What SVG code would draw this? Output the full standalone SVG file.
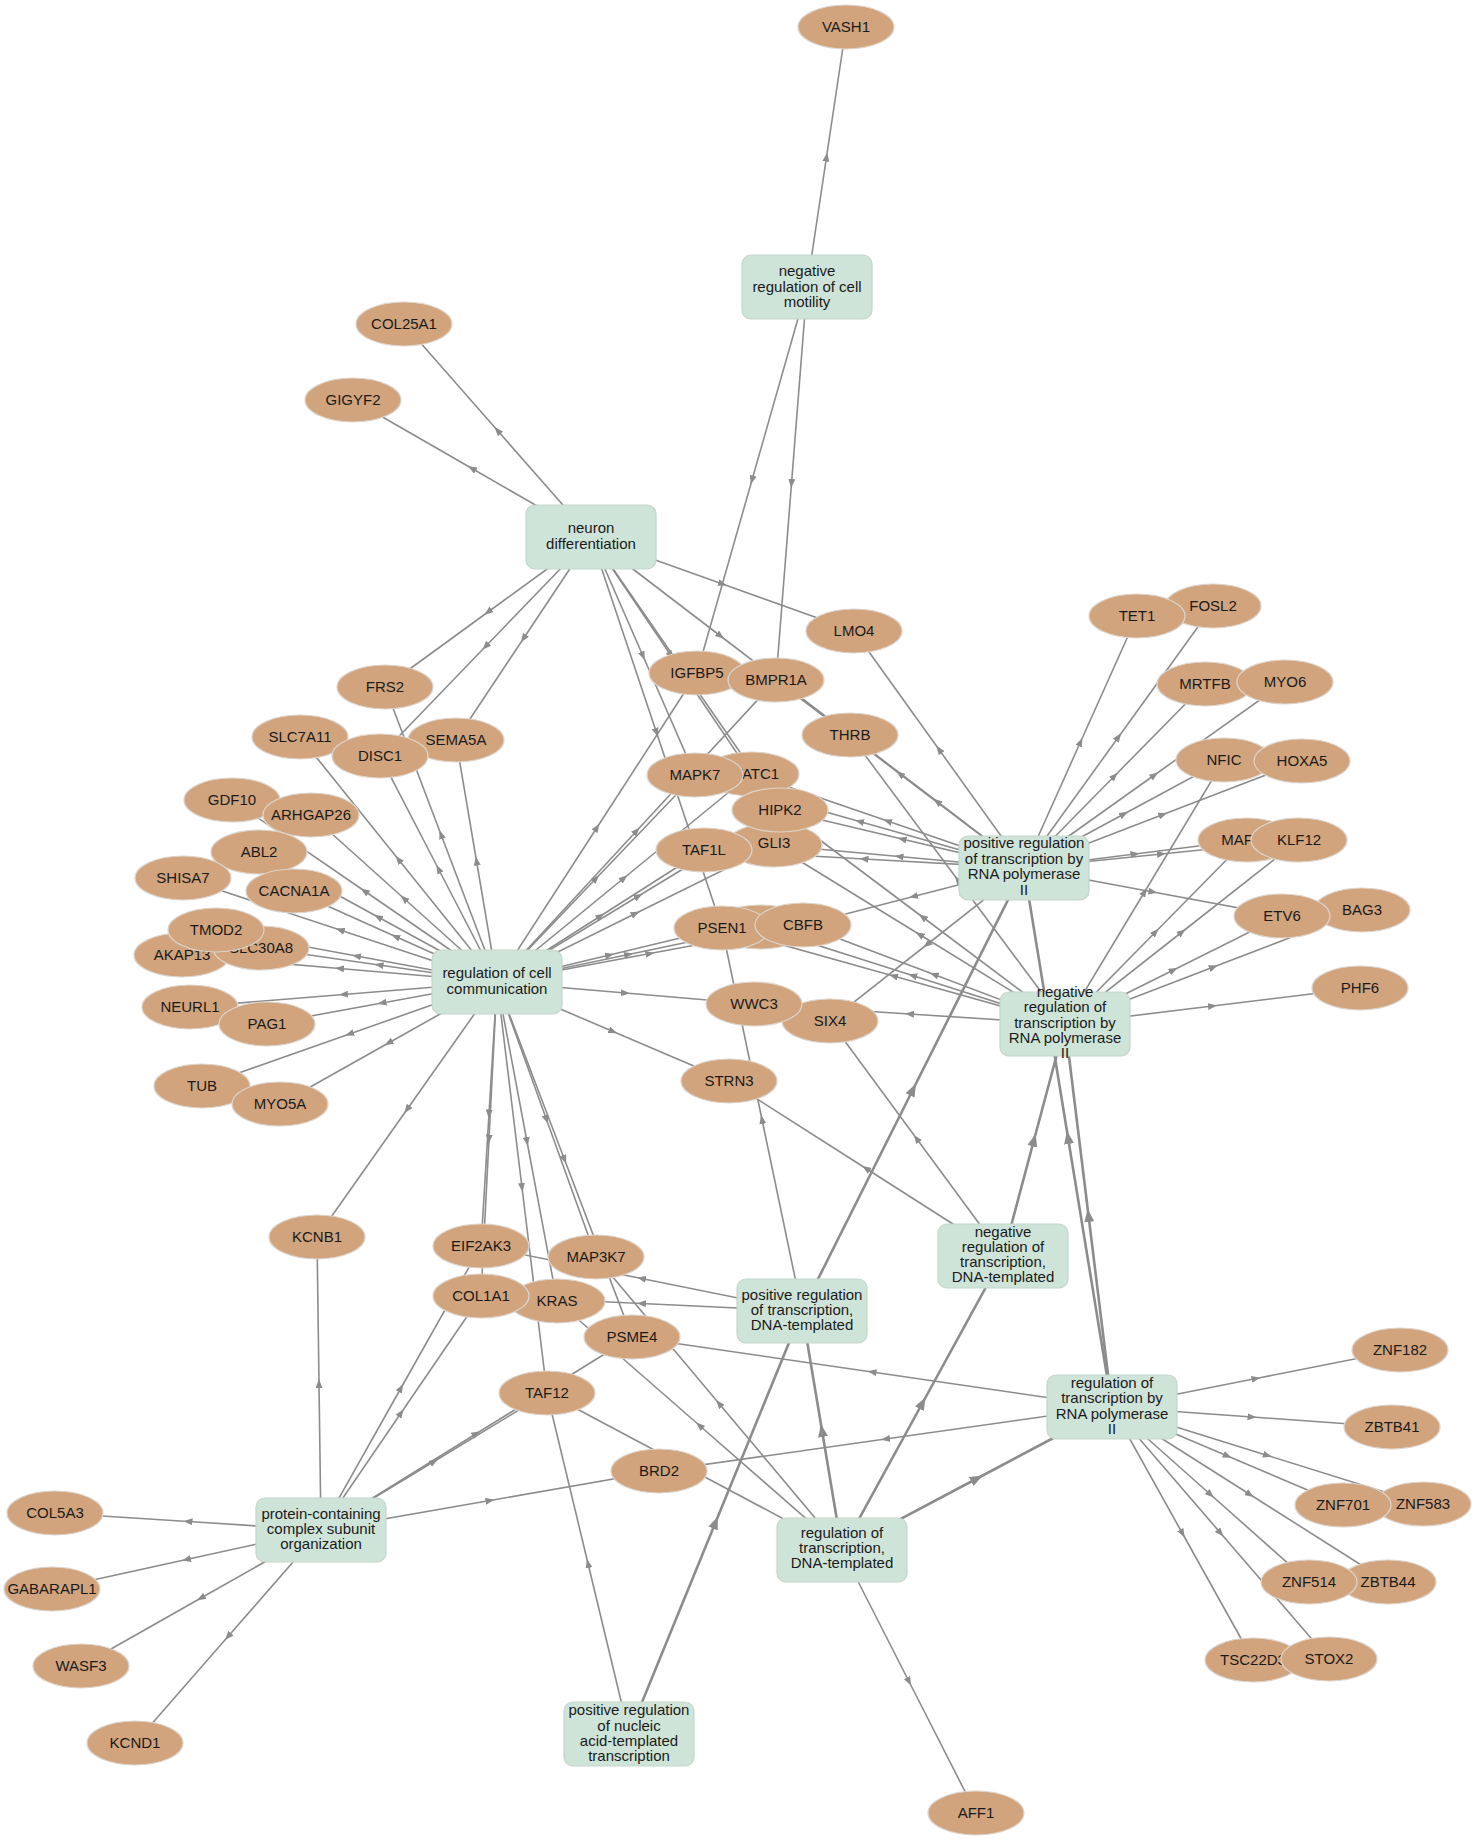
<svg xmlns="http://www.w3.org/2000/svg" width="1475" height="1840" viewBox="0 0 1475 1840">
<style>
.e{fill:none;stroke:#8c8c8c;stroke-width:1.6;marker-mid:url(#a)}
.tt{fill:none;stroke:#8c8c8c;stroke-width:2.6;marker-mid:url(#b)}
.g ellipse{fill:#d1a47d;stroke:#dcd4cc;stroke-width:1.2}
.t rect{fill:#cfe4d8;stroke:#c4d6cb;stroke-width:1.2}
text{font-family:"Liberation Sans",Arial,Helvetica,sans-serif;font-size:15px;fill:#1a1a1a;text-anchor:middle}
</style>
<defs>
<marker id="a" markerUnits="userSpaceOnUse" markerWidth="9" markerHeight="7" refX="4.5" refY="3.5" orient="auto"><path d="M0,0 L9,3.5 L0,7 z" fill="#8c8c8c"/></marker>
<marker id="b" markerUnits="userSpaceOnUse" markerWidth="13" markerHeight="10" refX="6.5" refY="5" orient="auto"><path d="M0,0 L13,5 L0,10 z" fill="#8c8c8c"/></marker>
</defs>
<rect width="1475" height="1840" fill="#ffffff"/>
<g id="edges">
<path class="e" d="M807,287 L826.5,157 L846,27"/>
<path class="e" d="M807,287 L752,480 L697,673"/>
<path class="e" d="M807,287 L791.5,483.5 L776,680"/>
<path class="e" d="M591,537 L497.5,430.5 L404,324"/>
<path class="e" d="M591,537 L472,468.5 L353,400"/>
<path class="e" d="M591,537 L488,612 L385,687"/>
<path class="e" d="M591,537 L485.5,646.5 L380,756"/>
<path class="e" d="M591,537 L523.5,638.5 L456,740"/>
<path class="e" d="M591,537 L722.5,584 L854,631"/>
<path class="e" d="M591,537 L720.5,636 L850,735"/>
<path class="e" d="M591,537 L656.5,732.5 L722,928"/>
<path class="e" d="M591,537 L643,656 L695,775"/>
<path class="e" d="M591,537 L671,655.5 L751,774"/>
<path class="e" d="M591,537 L685.5,673.5 L780,810"/>
<path class="e" d="M497,982 L398.5,859.5 L300,737"/>
<path class="e" d="M497,982 L438.5,869 L380,756"/>
<path class="e" d="M497,982 L441,834.5 L385,687"/>
<path class="e" d="M497,982 L476.5,861 L456,740"/>
<path class="e" d="M497,982 L404,898.5 L311,815"/>
<path class="e" d="M497,982 L364.5,891 L232,800"/>
<path class="e" d="M497,982 L378,917 L259,852"/>
<path class="e" d="M497,982 L340,930 L183,878"/>
<path class="e" d="M497,982 L395.5,936.5 L294,891"/>
<path class="e" d="M497,982 L356.5,956 L216,930"/>
<path class="e" d="M497,982 L379,965 L261,948"/>
<path class="e" d="M497,982 L339.5,968.5 L182,955"/>
<path class="e" d="M497,982 L343.5,994.5 L190,1007"/>
<path class="e" d="M497,982 L382,1003 L267,1024"/>
<path class="e" d="M497,982 L349.5,1034 L202,1086"/>
<path class="e" d="M497,982 L388.5,1043 L280,1104"/>
<path class="e" d="M497,982 L597,827.5 L697,673"/>
<path class="e" d="M497,982 L636.5,831 L776,680"/>
<path class="e" d="M497,982 L596,878.5 L695,775"/>
<path class="e" d="M497,982 L624,878 L751,774"/>
<path class="e" d="M497,982 L638.5,896 L780,810"/>
<path class="e" d="M497,982 L635.5,913.5 L774,845"/>
<path class="e" d="M497,982 L600.5,916 L704,850"/>
<path class="e" d="M497,982 L609.5,955 L722,928"/>
<path class="e" d="M497,982 L628.5,954.5 L760,927"/>
<path class="e" d="M497,982 L650,953.5 L803,925"/>
<path class="e" d="M497,982 L625.5,993 L754,1004"/>
<path class="e" d="M497,982 L613,1031.5 L729,1081"/>
<path class="e" d="M497,982 L407,1109.5 L317,1237"/>
<path class="e" d="M497,982 L489,1114 L481,1246"/>
<path class="e" d="M497,982 L489,1139 L481,1296"/>
<path class="e" d="M497,982 L522,1187.5 L547,1393"/>
<path class="e" d="M497,982 L527,1141.5 L557,1301"/>
<path class="e" d="M497,982 L546.5,1119.5 L596,1257"/>
<path class="e" d="M497,982 L564.5,1159.5 L632,1337"/>
<path class="e" d="M1024,868 L939,749.5 L854,631"/>
<path class="e" d="M1024,868 L937,801.5 L850,735"/>
<path class="e" d="M1024,868 L900,774 L776,680"/>
<path class="e" d="M1024,868 L902,839 L780,810"/>
<path class="e" d="M1024,868 L887.5,821 L751,774"/>
<path class="e" d="M1024,868 L859.5,821.5 L695,775"/>
<path class="e" d="M1024,868 L899,856.5 L774,845"/>
<path class="e" d="M1024,868 L864,859 L704,850"/>
<path class="e" d="M1024,868 L913.5,896.5 L803,925"/>
<path class="e" d="M1024,868 L927,944.5 L830,1021"/>
<path class="e" d="M1024,868 L1080.5,742 L1137,616"/>
<path class="e" d="M1024,868 L1118.5,737 L1213,606"/>
<path class="e" d="M1024,868 L1114.5,776 L1205,684"/>
<path class="e" d="M1024,868 L1154.5,775 L1285,682"/>
<path class="e" d="M1024,868 L1124,814 L1224,760"/>
<path class="e" d="M1024,868 L1163,814.5 L1302,761"/>
<path class="e" d="M1024,868 L1135,854 L1246,840"/>
<path class="e" d="M1024,868 L1161.5,854 L1299,840"/>
<path class="e" d="M1024,868 L1153,892 L1282,916"/>
<path class="e" d="M1065,1024 L957.5,879.5 L850,735"/>
<path class="e" d="M1065,1024 L922.5,917 L780,810"/>
<path class="e" d="M1065,1024 L919.5,934.5 L774,845"/>
<path class="e" d="M1065,1024 L893.5,976 L722,928"/>
<path class="e" d="M1065,1024 L912.5,975.5 L760,927"/>
<path class="e" d="M1065,1024 L934,974.5 L803,925"/>
<path class="e" d="M1065,1024 L909.5,1014 L754,1004"/>
<path class="e" d="M1065,1024 L1144.5,892 L1224,760"/>
<path class="e" d="M1065,1024 L1155.5,932 L1246,840"/>
<path class="e" d="M1065,1024 L1182,932 L1299,840"/>
<path class="e" d="M1065,1024 L1173.5,970 L1282,916"/>
<path class="e" d="M1065,1024 L1213.5,967 L1362,910"/>
<path class="e" d="M1065,1024 L1212.5,1006 L1360,988"/>
<path class="e" d="M1003,1256 L916.5,1138.5 L830,1021"/>
<path class="e" d="M1003,1256 L866,1168.5 L729,1081"/>
<path class="e" d="M802,1311 L762,1119.5 L722,928"/>
<path class="e" d="M802,1311 L641.5,1278.5 L481,1246"/>
<path class="e" d="M802,1311 L641.5,1303.5 L481,1296"/>
<path class="e" d="M1112,1407 L1256,1378.5 L1400,1350"/>
<path class="e" d="M1112,1407 L1252,1417 L1392,1427"/>
<path class="e" d="M1112,1407 L1227.5,1456 L1343,1505"/>
<path class="e" d="M1112,1407 L1267.5,1455.5 L1423,1504"/>
<path class="e" d="M1112,1407 L1210.5,1494.5 L1309,1582"/>
<path class="e" d="M1112,1407 L1250,1494.5 L1388,1582"/>
<path class="e" d="M1112,1407 L1182.5,1533.5 L1253,1660"/>
<path class="e" d="M1112,1407 L1220.5,1533 L1329,1659"/>
<path class="e" d="M1112,1407 L872,1372 L632,1337"/>
<path class="e" d="M1112,1407 L885.5,1439 L659,1471"/>
<path class="e" d="M321,1530 L188,1521.5 L55,1513"/>
<path class="e" d="M321,1530 L186.5,1559.5 L52,1589"/>
<path class="e" d="M321,1530 L201,1598 L81,1666"/>
<path class="e" d="M321,1530 L228,1636.5 L135,1743"/>
<path class="e" d="M321,1530 L319,1383.5 L317,1237"/>
<path class="e" d="M321,1530 L401,1388 L481,1246"/>
<path class="e" d="M321,1530 L401,1413 L481,1296"/>
<path class="e" d="M321,1530 L434,1461.5 L547,1393"/>
<path class="e" d="M321,1530 L476.5,1433.5 L632,1337"/>
<path class="e" d="M321,1530 L490,1500.5 L659,1471"/>
<path class="e" d="M842,1550 L909,1681.5 L976,1813"/>
<path class="e" d="M842,1550 L694.5,1471.5 L547,1393"/>
<path class="e" d="M842,1550 L699.5,1425.5 L557,1301"/>
<path class="e" d="M842,1550 L719,1403.5 L596,1257"/>
<path class="e" d="M629,1734 L588,1563.5 L547,1393"/>
<path class="tt" d="M629,1734 L715.5,1522.5 L802,1311"/>
<path class="tt" d="M842,1550 L822,1430.5 L802,1311"/>
<path class="tt" d="M842,1550 L922.5,1403 L1003,1256"/>
<path class="tt" d="M842,1550 L977,1478.5 L1112,1407"/>
<path class="tt" d="M802,1311 L913,1089.5 L1024,868"/>
<path class="tt" d="M1003,1256 L1034,1140 L1065,1024"/>
<path class="tt" d="M1112,1407 L1088.5,1215.5 L1065,1024"/>
<path class="tt" d="M1112,1407 L1068,1137.5 L1024,868"/>
</g>
<g id="nodes">
<g id="n-nrcm" class="t"><rect x="742" y="255" width="130" height="64" rx="9"/><text x="807" y="276">negative</text><text x="807" y="292">regulation of cell</text><text x="807" y="307">motility</text></g>
<g id="n-nd" class="t"><rect x="526" y="505" width="130" height="64" rx="9"/><text x="591" y="533">neuron</text><text x="591" y="549">differentiation</text></g>
<g id="n-rcc" class="t"><rect x="432" y="950" width="130" height="64" rx="9"/><text x="497" y="978">regulation of cell</text><text x="497" y="994">communication</text></g>
<g id="n-prrp2" class="t"><rect x="959" y="836" width="130" height="64" rx="9"/><text x="1024" y="848">positive regulation</text><text x="1024" y="864">of transcription by</text><text x="1024" y="879">RNA polymerase</text><text x="1024" y="895">II</text></g>
<g id="n-nrrp2" class="t"><rect x="1000" y="992" width="130" height="64" rx="9"/><text x="1065" y="997">negative</text><text x="1065" y="1012">regulation of</text><text x="1065" y="1028">transcription by</text><text x="1065" y="1043">RNA polymerase</text><text x="1065" y="1058">II</text></g>
<g id="n-nrtd" class="t"><rect x="938" y="1224" width="130" height="64" rx="9"/><text x="1003" y="1237">negative</text><text x="1003" y="1252">regulation of</text><text x="1003" y="1267">transcription,</text><text x="1003" y="1282">DNA-templated</text></g>
<g id="n-prtd" class="t"><rect x="737" y="1279" width="130" height="64" rx="9"/><text x="802" y="1300">positive regulation</text><text x="802" y="1315">of transcription,</text><text x="802" y="1330">DNA-templated</text></g>
<g id="n-rtrp2" class="t"><rect x="1047" y="1375" width="130" height="64" rx="9"/><text x="1112" y="1388">regulation of</text><text x="1112" y="1403">transcription by</text><text x="1112" y="1419">RNA polymerase</text><text x="1112" y="1434">II</text></g>
<g id="n-pcso" class="t"><rect x="256" y="1498" width="130" height="64" rx="9"/><text x="321" y="1519">protein-containing</text><text x="321" y="1534">complex subunit</text><text x="321" y="1549">organization</text></g>
<g id="n-rtd" class="t"><rect x="777" y="1518" width="130" height="64" rx="9"/><text x="842" y="1538">regulation of</text><text x="842" y="1553">transcription,</text><text x="842" y="1568">DNA-templated</text></g>
<g id="n-prna" class="t"><rect x="564" y="1702" width="130" height="64" rx="9"/><text x="629" y="1715">positive regulation</text><text x="629" y="1731">of nucleic</text><text x="629" y="1746">acid-templated</text><text x="629" y="1761">transcription</text></g>

<g id="n-vash1" class="g"><ellipse cx="846" cy="27" rx="48" ry="22"/><text x="846" y="32">VASH1</text></g>
<g id="n-col25a1" class="g"><ellipse cx="404" cy="324" rx="48" ry="22"/><text x="404" y="329">COL25A1</text></g>
<g id="n-gigyf2" class="g"><ellipse cx="353" cy="400" rx="48" ry="22"/><text x="353" y="405">GIGYF2</text></g>
<g id="n-lmo4" class="g"><ellipse cx="854" cy="631" rx="48" ry="22"/><text x="854" y="636">LMO4</text></g>
<g id="n-fosl2" class="g"><ellipse cx="1213" cy="606" rx="48" ry="22"/><text x="1213" y="611">FOSL2</text></g>
<g id="n-tet1" class="g"><ellipse cx="1137" cy="616" rx="48" ry="22"/><text x="1137" y="621">TET1</text></g>
<g id="n-igfbp5" class="g"><ellipse cx="697" cy="673" rx="48" ry="22"/><text x="697" y="678">IGFBP5</text></g>
<g id="n-bmpr1a" class="g"><ellipse cx="776" cy="680" rx="48" ry="22"/><text x="776" y="685">BMPR1A</text></g>
<g id="n-frs2" class="g"><ellipse cx="385" cy="687" rx="48" ry="22"/><text x="385" y="692">FRS2</text></g>
<g id="n-mrtfb" class="g"><ellipse cx="1205" cy="684" rx="48" ry="22"/><text x="1205" y="689">MRTFB</text></g>
<g id="n-myo6" class="g"><ellipse cx="1285" cy="682" rx="48" ry="22"/><text x="1285" y="687">MYO6</text></g>
<g id="n-slc7a11" class="g"><ellipse cx="300" cy="737" rx="48" ry="22"/><text x="300" y="742">SLC7A11</text></g>
<g id="n-sema5a" class="g"><ellipse cx="456" cy="740" rx="48" ry="22"/><text x="456" y="745">SEMA5A</text></g>
<g id="n-disc1" class="g"><ellipse cx="380" cy="756" rx="48" ry="22"/><text x="380" y="761">DISC1</text></g>
<g id="n-thrb" class="g"><ellipse cx="850" cy="735" rx="48" ry="22"/><text x="850" y="740">THRB</text></g>
<g id="n-nfic" class="g"><ellipse cx="1224" cy="760" rx="48" ry="22"/><text x="1224" y="765">NFIC</text></g>
<g id="n-hoxa5" class="g"><ellipse cx="1302" cy="761" rx="48" ry="22"/><text x="1302" y="766">HOXA5</text></g>
<g id="n-nfatc1" class="g"><ellipse cx="751" cy="774" rx="48" ry="22"/><text x="751" y="779">NFATC1</text></g>
<g id="n-mapk7" class="g"><ellipse cx="695" cy="775" rx="48" ry="22"/><text x="695" y="780">MAPK7</text></g>
<g id="n-gdf10" class="g"><ellipse cx="232" cy="800" rx="48" ry="22"/><text x="232" y="805">GDF10</text></g>
<g id="n-arhgap26" class="g"><ellipse cx="311" cy="815" rx="48" ry="22"/><text x="311" y="820">ARHGAP26</text></g>
<g id="n-gli3" class="g"><ellipse cx="774" cy="845" rx="48" ry="22"/><text x="774" y="848">GLI3</text></g>
<g id="n-hipk2" class="g"><ellipse cx="780" cy="810" rx="48" ry="22"/><text x="780" y="815">HIPK2</text></g>
<g id="n-taf1l" class="g"><ellipse cx="704" cy="850" rx="48" ry="22"/><text x="704" y="855">TAF1L</text></g>
<g id="n-abl2" class="g"><ellipse cx="259" cy="852" rx="48" ry="22"/><text x="259" y="857">ABL2</text></g>
<g id="n-mafb" class="g"><ellipse cx="1246" cy="840" rx="48" ry="22"/><text x="1242" y="845">MAFB</text></g>
<g id="n-klf12" class="g"><ellipse cx="1299" cy="840" rx="48" ry="22"/><text x="1299" y="845">KLF12</text></g>
<g id="n-shisa7" class="g"><ellipse cx="183" cy="878" rx="48" ry="22"/><text x="183" y="883">SHISA7</text></g>
<g id="n-cacna1a" class="g"><ellipse cx="294" cy="891" rx="48" ry="22"/><text x="294" y="896">CACNA1A</text></g>
<g id="n-bag3" class="g"><ellipse cx="1362" cy="910" rx="48" ry="22"/><text x="1362" y="915">BAG3</text></g>
<g id="n-etv6" class="g"><ellipse cx="1282" cy="916" rx="48" ry="22"/><text x="1282" y="921">ETV6</text></g>
<g id="n-akap13" class="g"><ellipse cx="182" cy="955" rx="48" ry="22"/><text x="182" y="960">AKAP13</text></g>
<g id="n-slc30a8" class="g"><ellipse cx="261" cy="948" rx="48" ry="22"/><text x="261" y="953">SLC30A8</text></g>
<g id="n-tmod2" class="g"><ellipse cx="216" cy="930" rx="48" ry="22"/><text x="216" y="935">TMOD2</text></g>
<g id="n-x1" class="g"><ellipse cx="760" cy="927" rx="48" ry="22"/></g>
<g id="n-psen1" class="g"><ellipse cx="722" cy="928" rx="48" ry="22"/><text x="722" y="933">PSEN1</text></g>
<g id="n-cbfb" class="g"><ellipse cx="803" cy="925" rx="48" ry="22"/><text x="803" y="930">CBFB</text></g>
<g id="n-phf6" class="g"><ellipse cx="1360" cy="988" rx="48" ry="22"/><text x="1360" y="993">PHF6</text></g>
<g id="n-neurl1" class="g"><ellipse cx="190" cy="1007" rx="48" ry="22"/><text x="190" y="1012">NEURL1</text></g>
<g id="n-pag1" class="g"><ellipse cx="267" cy="1024" rx="48" ry="22"/><text x="267" y="1029">PAG1</text></g>
<g id="n-six4" class="g"><ellipse cx="830" cy="1021" rx="48" ry="22"/><text x="830" y="1026">SIX4</text></g>
<g id="n-wwc3" class="g"><ellipse cx="754" cy="1004" rx="48" ry="22"/><text x="754" y="1009">WWC3</text></g>
<g id="n-strn3" class="g"><ellipse cx="729" cy="1081" rx="48" ry="22"/><text x="729" y="1086">STRN3</text></g>
<g id="n-tub" class="g"><ellipse cx="202" cy="1086" rx="48" ry="22"/><text x="202" y="1091">TUB</text></g>
<g id="n-myo5a" class="g"><ellipse cx="280" cy="1104" rx="48" ry="22"/><text x="280" y="1109">MYO5A</text></g>
<g id="n-kcnb1" class="g"><ellipse cx="317" cy="1237" rx="48" ry="22"/><text x="317" y="1242">KCNB1</text></g>
<g id="n-eif2ak3" class="g"><ellipse cx="481" cy="1246" rx="48" ry="22"/><text x="481" y="1251">EIF2AK3</text></g>
<g id="n-map3k7" class="g"><ellipse cx="596" cy="1257" rx="48" ry="22"/><text x="596" y="1262">MAP3K7</text></g>
<g id="n-kras" class="g"><ellipse cx="557" cy="1301" rx="48" ry="22"/><text x="557" y="1306">KRAS</text></g>
<g id="n-col1a1" class="g"><ellipse cx="481" cy="1296" rx="48" ry="22"/><text x="481" y="1301">COL1A1</text></g>
<g id="n-psme4" class="g"><ellipse cx="632" cy="1337" rx="48" ry="22"/><text x="632" y="1342">PSME4</text></g>
<g id="n-znf182" class="g"><ellipse cx="1400" cy="1350" rx="48" ry="22"/><text x="1400" y="1355">ZNF182</text></g>
<g id="n-taf12" class="g"><ellipse cx="547" cy="1393" rx="48" ry="22"/><text x="547" y="1398">TAF12</text></g>
<g id="n-zbtb41" class="g"><ellipse cx="1392" cy="1427" rx="48" ry="22"/><text x="1392" y="1432">ZBTB41</text></g>
<g id="n-brd2" class="g"><ellipse cx="659" cy="1471" rx="48" ry="22"/><text x="659" y="1476">BRD2</text></g>
<g id="n-znf583" class="g"><ellipse cx="1423" cy="1504" rx="48" ry="22"/><text x="1423" y="1509">ZNF583</text></g>
<g id="n-znf701" class="g"><ellipse cx="1343" cy="1505" rx="48" ry="22"/><text x="1343" y="1510">ZNF701</text></g>
<g id="n-col5a3" class="g"><ellipse cx="55" cy="1513" rx="48" ry="22"/><text x="55" y="1518">COL5A3</text></g>
<g id="n-gabarapl1" class="g"><ellipse cx="52" cy="1589" rx="48" ry="22"/><text x="52" y="1594">GABARAPL1</text></g>
<g id="n-zbtb44" class="g"><ellipse cx="1388" cy="1582" rx="48" ry="22"/><text x="1388" y="1587">ZBTB44</text></g>
<g id="n-znf514" class="g"><ellipse cx="1309" cy="1582" rx="48" ry="22"/><text x="1309" y="1587">ZNF514</text></g>
<g id="n-wasf3" class="g"><ellipse cx="81" cy="1666" rx="48" ry="22"/><text x="81" y="1671">WASF3</text></g>
<g id="n-tsc22d3" class="g"><ellipse cx="1253" cy="1660" rx="48" ry="22"/><text x="1253" y="1665">TSC22D3</text></g>
<g id="n-stox2" class="g"><ellipse cx="1329" cy="1659" rx="48" ry="22"/><text x="1329" y="1664">STOX2</text></g>
<g id="n-kcnd1" class="g"><ellipse cx="135" cy="1743" rx="48" ry="22"/><text x="135" y="1748">KCND1</text></g>
<g id="n-aff1" class="g"><ellipse cx="976" cy="1813" rx="48" ry="22"/><text x="976" y="1818">AFF1</text></g>
</g>
</svg>
